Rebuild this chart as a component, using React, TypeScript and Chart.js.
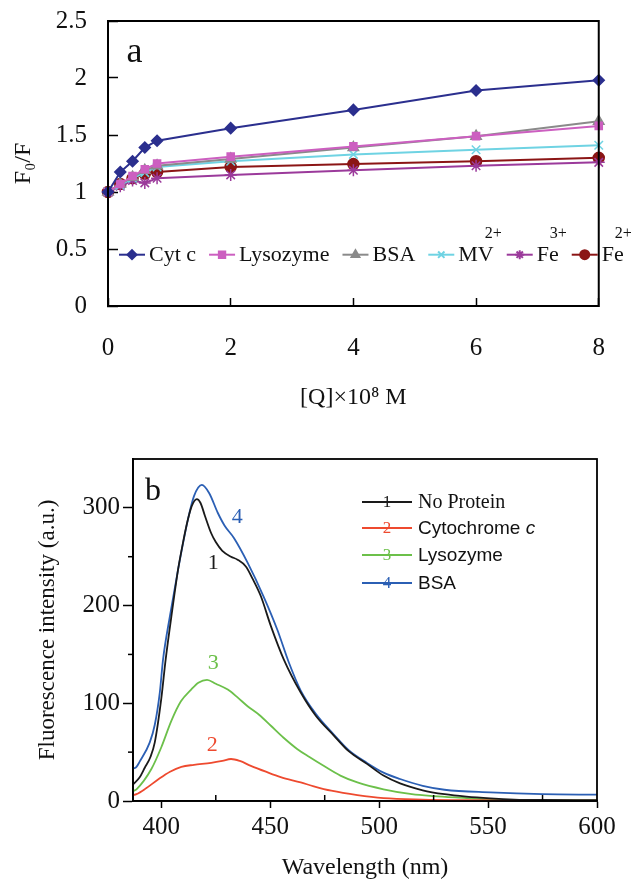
import React, { useEffect, useRef } from 'react';
import { Chart, registerables } from 'chart.js';
import { drawPoint } from 'chart.js/helpers';
Chart.register(...registerables);

// ---------- Panel a data ----------
const concX = [0, 0.2, 0.4, 0.6, 0.8, 2, 4, 6, 8];
const cytC = [1.0, 1.175, 1.27, 1.39, 1.45, 1.56, 1.72, 1.89, 1.98];
const lysozymeA = [1.0, 1.07, 1.14, 1.2, 1.25, 1.31, 1.4, 1.49, 1.58];
const bsaA = [1.0, 1.07, 1.13, 1.19, 1.23, 1.29, 1.39, 1.49, 1.62];
const mv2 = [1.0, 1.06, 1.12, 1.17, 1.22, 1.27, 1.33, 1.37, 1.41];
const fe3 = [1.0, 1.05, 1.1, 1.08, 1.12, 1.15, 1.19, 1.23, 1.26];
const fe2 = [1.0, 1.07, 1.12, 1.16, 1.175, 1.22, 1.245, 1.27, 1.3];
const seriesNamesA = ['Cyt c', 'Lysozyme', 'BSA', 'MV', 'Fe', 'Fe'];
const seriesSupsA = ['', '', '', '2+', '3+', '2+'];
const yTicksA = [0, 0.5, 1, 1.5, 2, 2.5];
const xTicksA = [0, 2, 4, 6, 8];

// ---------- Panel b data ----------
const noProteinWl = [387, 390, 392.4, 395, 397, 400, 402, 405, 407.7, 410, 412.2, 414, 416.3, 418, 420, 422.9, 425, 428, 432, 435, 438.8, 442, 445.7, 450.3, 456.2, 464, 471, 479.2, 486, 494.4, 502, 509.6, 520, 530, 540, 551, 562, 575, 600];
const noProteinInt = [17, 24, 34, 45, 60, 105, 145, 195, 237, 265, 288, 302, 309, 305, 292, 274, 265, 256, 250, 247, 240, 227, 209.5, 179, 145, 111, 87, 67, 51, 38, 26, 18, 11, 7, 4.5, 2.7, 1.5, 1, 0.8];
const cytochromeWl = [387, 388.6, 393, 398.5, 404, 409.2, 415, 422.9, 428, 432, 436, 441.1, 448, 454.8, 464, 470, 478, 490, 502, 520, 540, 570, 600];
const cytochromeInt = [6, 7, 13, 22, 30, 35, 37, 39, 41, 43, 41, 36, 30, 24.5, 19, 15, 10.5, 6, 3, 1.5, 0.8, 0.4, 0.3];
const lysozymeWl = [387, 388.6, 395.5, 400, 404.6, 409, 413.7, 417, 421, 425, 430.5, 435, 439.6, 445, 450.3, 456, 462.5, 468, 474.5, 482.2, 490, 502, 515, 525, 540, 551, 575, 600];
const lysozymeInt = [10, 12, 33, 55, 82, 102, 114, 121, 124, 120, 114, 106, 97, 88, 77, 65, 53, 45, 36, 26, 19, 12, 7, 5, 3, 1.5, 0.7, 0.5];
const bsaWl = [387, 388.6, 390, 394.7, 397, 399.3, 400.8, 404, 407.7, 412.2, 415, 418.6, 422, 425.9, 429, 433.4, 439.6, 447, 453.3, 458.5, 464, 471, 479.2, 486, 494.4, 502, 509.6, 520, 530, 551, 575, 600];
const bsaInt = [33, 35, 40, 60, 78, 111, 145, 190, 237, 288, 312, 323.5, 315, 295, 282, 269, 244, 209, 175, 142, 113, 89, 68, 52, 39, 29, 22.5, 15.5, 11.5, 8.8, 7, 6.5];
const seriesNamesB = ['No Protein', 'Cytochrome ', 'Lysozyme', 'BSA'];
const seriesNumsB = ['1', '2', '3', '4'];
const xMinorB = [425, 475, 525, 575];
const yMinorB = [50, 150, 250];
// curve number annotations (in data units: wavelength, intensity)
const curveLabelWl = [423.8, 423.4, 423.8, 434.8];
const curveLabelInt = [243.6, 57.3, 141, 290.7];

const colorsA = ['#2b2f8e', '#cc5fc0', '#8a8a8a', '#6fd3e3', '#9b3a9b', '#8b1515'];
const stylesA = ['rectRot', 'rect', 'triangle', 'crossRot', 'star', 'circle'];
const radiiA = [5.5, 5, 6, 6, 6, 5.5];
const colorsB = ['#1a1a1a', '#ee4a2f', '#6cc04a', '#2b5fb4'];

const SERIF = '"Liberation Serif", "Times New Roman", serif';
const SANS = '"Liberation Sans", Arial, sans-serif';

const framePlugin = {
  id: 'frame',
  afterDraw(chart: any, _a: any, opts: any) {
    const { ctx, chartArea } = chart;
    ctx.save();
    ctx.strokeStyle = '#000';
    ctx.lineWidth = opts.width || 2;
    ctx.strokeRect(chartArea.left, chartArea.top, chartArea.right - chartArea.left, chartArea.bottom - chartArea.top);
    ctx.restore();
  },
};

const legendAPlugin = {
  id: 'legendA',
  afterDraw(chart: any) {
    const ctx = chart.ctx;
    ctx.save();
    const y = chart.scales.y.getPixelForValue(0.45);
    let x = chart.chartArea.left + 11;
    chart.data.datasets.forEach((ds: any, i: number) => {
      ctx.strokeStyle = ds.borderColor;
      ctx.lineWidth = 2;
      ctx.beginPath();
      ctx.moveTo(x, y);
      ctx.lineTo(x + 26, y);
      ctx.stroke();
      ctx.fillStyle = ds.pointBackgroundColor;
      ctx.strokeStyle = ds.pointBorderColor;
      drawPoint(ctx, { pointStyle: ds.pointStyle, rotation: 0, radius: 4.5, borderWidth: 1.5 } as any, x + 13, y);
      ctx.font = '22px ' + SERIF;
      ctx.fillStyle = '#111';
      ctx.textBaseline = 'middle';
      ctx.textAlign = 'left';
      const name = seriesNamesA[i];
      ctx.fillText(name, x + 30, y + 1);
      const w = ctx.measureText(name).width;
      if (seriesSupsA[i]) {
        ctx.font = '16px ' + SERIF;
        ctx.fillText(seriesSupsA[i], x + 30 + w - 9, y - 21);
      }
      x += 30 + w + 13;
    });
    // panel letter
    ctx.font = '36px ' + SERIF;
    ctx.fillStyle = '#111';
    ctx.textAlign = 'left';
    ctx.textBaseline = 'alphabetic';
    ctx.fillText('a', chart.scales.x.getPixelForValue(0.3), chart.scales.y.getPixelForValue(2.14));
    ctx.restore();
  },
};

const legendBPlugin = {
  id: 'legendB',
  afterDraw(chart: any) {
    const { ctx, chartArea, scales } = chart;
    ctx.save();
    // minor ticks
    ctx.strokeStyle = '#000';
    ctx.lineWidth = 1.5;
    xMinorB.forEach((v) => {
      const px = scales.x.getPixelForValue(v);
      ctx.beginPath();
      ctx.moveTo(px, chartArea.bottom);
      ctx.lineTo(px, chartArea.bottom - 6);
      ctx.stroke();
    });
    yMinorB.forEach((v) => {
      const py = scales.y.getPixelForValue(v);
      ctx.beginPath();
      ctx.moveTo(chartArea.left, py);
      ctx.lineTo(chartArea.left - 5, py);
      ctx.stroke();
    });
    // legend
    const x0 = chartArea.left + 229;
    const rowY = [82, 108, 135, 163];
    chart.data.datasets.forEach((ds: any, i: number) => {
      const y = rowY[i];
      ctx.strokeStyle = ds.borderColor;
      ctx.lineWidth = 1.8;
      ctx.beginPath();
      ctx.moveTo(x0, y);
      ctx.lineTo(x0 + 50, y);
      ctx.stroke();
      ctx.fillStyle = ds.borderColor;
      ctx.font = '17px ' + SERIF;
      ctx.textAlign = 'center';
      ctx.textBaseline = 'middle';
      ctx.fillText(seriesNumsB[i], x0 + 25, y + 1);
      ctx.textAlign = 'left';
      ctx.fillStyle = '#111';
      if (i === 0) {
        ctx.font = '20px ' + SERIF;
        ctx.fillText(seriesNamesB[i], x0 + 56, y + 1);
      } else {
        ctx.font = '19px ' + SANS;
        ctx.fillText(seriesNamesB[i], x0 + 56, y + 1);
        if (i === 1) {
          const w = ctx.measureText(seriesNamesB[i]).width;
          ctx.font = 'italic 19px ' + SANS;
          ctx.fillText('c', x0 + 56 + w, y + 1);
        }
      }
    });
    // curve numbers
    ctx.font = '22px ' + SERIF;
    ctx.textAlign = 'center';
    ctx.textBaseline = 'middle';
    curveLabelWl.forEach((wl, i) => {
      ctx.fillStyle = colorsB[i];
      ctx.fillText(seriesNumsB[i], scales.x.getPixelForValue(wl), scales.y.getPixelForValue(curveLabelInt[i]));
    });
    // panel letter
    ctx.font = '32px ' + SERIF;
    ctx.fillStyle = '#111';
    ctx.textAlign = 'left';
    ctx.textBaseline = 'alphabetic';
    ctx.fillText('b', chartArea.left + 12, chartArea.top + 41);
    ctx.restore();
  },
};

function PanelA() {
  const ref = useRef<HTMLCanvasElement>(null);
  useEffect(() => {
    const seriesA = [cytC, lysozymeA, bsaA, mv2, fe3, fe2];
    const chart = new Chart(ref.current!, {
      type: 'line',
      data: {
        datasets: seriesA.map((vals, i) => ({
          label: seriesNamesA[i] + seriesSupsA[i],
          data: concX.map((x, j) => ({ x, y: vals[j] })),
          borderColor: colorsA[i],
          backgroundColor: colorsA[i],
          pointBackgroundColor: colorsA[i],
          pointBorderColor: colorsA[i],
          pointStyle: stylesA[i] as any,
          pointRadius: radiiA[i],
          pointBorderWidth: 1.5,
          borderWidth: 2,
          tension: 0,
          clip: false as any,
        })),
      },
      options: {
        animation: false,
        responsive: false,
        events: [],
        layout: { padding: { left: 0, right: 7, top: 21, bottom: 0 } },
        plugins: { legend: { display: false }, tooltip: { enabled: false }, frame: { width: 2 } } as any,
        scales: {
          x: {
            type: 'linear',
            min: 0,
            max: 8,
            afterFit: (s: any) => { s.height = 114; },
            afterBuildTicks: (s: any) => { s.ticks = xTicksA.map((v) => ({ value: v })); },
            ticks: { callback: (v: any) => String(v), font: { family: SERIF, size: 25 }, color: '#111', padding: 35, maxRotation: 0 },
            grid: { drawOnChartArea: false, drawTicks: true, tickLength: -8, tickColor: '#000', tickWidth: 1.5 },
            border: { display: true, color: '#000', width: 2 },
            title: { display: true, text: '[Q]×10⁸ M', font: { family: SERIF, size: 24 }, color: '#111', padding: { top: 0, bottom: 8 } },
          },
          y: {
            type: 'linear',
            min: 0,
            max: 2.5,
            afterFit: (s: any) => { s.width = 108; s.paddingTop = 0; s.paddingBottom = 0; },
            afterBuildTicks: (s: any) => { s.ticks = yTicksA.map((v) => ({ value: v })); },
            ticks: { callback: (v: any) => String(v), font: { family: SERIF, size: 25 }, color: '#111', padding: 31 },
            grid: { drawOnChartArea: false, drawTicks: true, tickLength: -10, tickColor: '#000', tickWidth: 1.5 },
            border: { display: true, color: '#000', width: 2 },
            title: { display: true, text: 'F₀/F', font: { family: SERIF, size: 24 }, color: '#111', padding: { top: 9, bottom: 0 } },
          },
        },
      } as any,
      plugins: [framePlugin, legendAPlugin],
    });
    return () => chart.destroy();
  }, []);
  return <canvas ref={ref} width={640} height={420} style={{ position: 'absolute', left: 0, top: 0, width: 640, height: 420 }} />;
}

function PanelB() {
  const ref = useRef<HTMLCanvasElement>(null);
  useEffect(() => {
    const wls = [noProteinWl, cytochromeWl, lysozymeWl, bsaWl];
    const ints = [noProteinInt, cytochromeInt, lysozymeInt, bsaInt];
    const chart = new Chart(ref.current!, {
      type: 'line',
      data: {
        datasets: wls.map((wl, i) => ({
          label: seriesNamesB[i],
          data: wl.map((x, j) => ({ x, y: ints[i][j] })),
          borderColor: colorsB[i],
          backgroundColor: colorsB[i],
          pointRadius: 0,
          borderWidth: 1.8,
          cubicInterpolationMode: 'monotone',
        })),
      },
      options: {
        animation: false,
        responsive: false,
        events: [],
        layout: { padding: { left: 0, right: 43, top: 39, bottom: 0 } },
        plugins: { legend: { display: false }, tooltip: { enabled: false }, frame: { width: 1.8 } } as any,
        scales: {
          x: {
            type: 'linear',
            min: 387,
            max: 600,
            afterFit: (s: any) => { s.height = 79; },
            ticks: { stepSize: 50, includeBounds: false, callback: (v: any) => String(v), font: { family: SERIF, size: 25 }, color: '#111', padding: 4, maxRotation: 0 },
            grid: { drawOnChartArea: false, drawTicks: true, tickLength: 7, tickColor: '#000', tickWidth: 1.5 },
            border: { display: true, color: '#000', width: 1.8 },
            title: { display: true, text: 'Wavelength (nm)', font: { family: SERIF, size: 24, lineHeight: 1 }, color: '#111', padding: { top: 0, bottom: 0 } },
          },
          y: {
            type: 'linear',
            min: 0,
            max: 350,
            afterFit: (s: any) => { s.width = 133; },
            ticks: { stepSize: 100, includeBounds: false, callback: (v: any) => String(v), font: { family: SERIF, size: 25 }, color: '#111', padding: 3 },
            grid: { drawOnChartArea: false, drawTicks: true, tickLength: 10, tickColor: '#000', tickWidth: 1.5 },
            border: { display: true, color: '#000', width: 1.8 },
            title: { display: true, text: 'Fluorescence intensity (a.u.)', font: { family: SERIF, size: 23 }, color: '#111', padding: { top: 34, bottom: 0 } },
          },
        },
      } as any,
      plugins: [framePlugin, legendBPlugin],
    });
    return () => chart.destroy();
  }, []);
  return <canvas ref={ref} width={640} height={460} style={{ position: 'absolute', left: 0, top: 420, width: 640, height: 460 }} />;
}

export default function App() {
  return (
    <div style={{ position: 'fixed', left: 0, top: 0, width: 640, height: 880, background: '#fff' }}>
      <PanelA />
      <PanelB />
    </div>
  );
}
